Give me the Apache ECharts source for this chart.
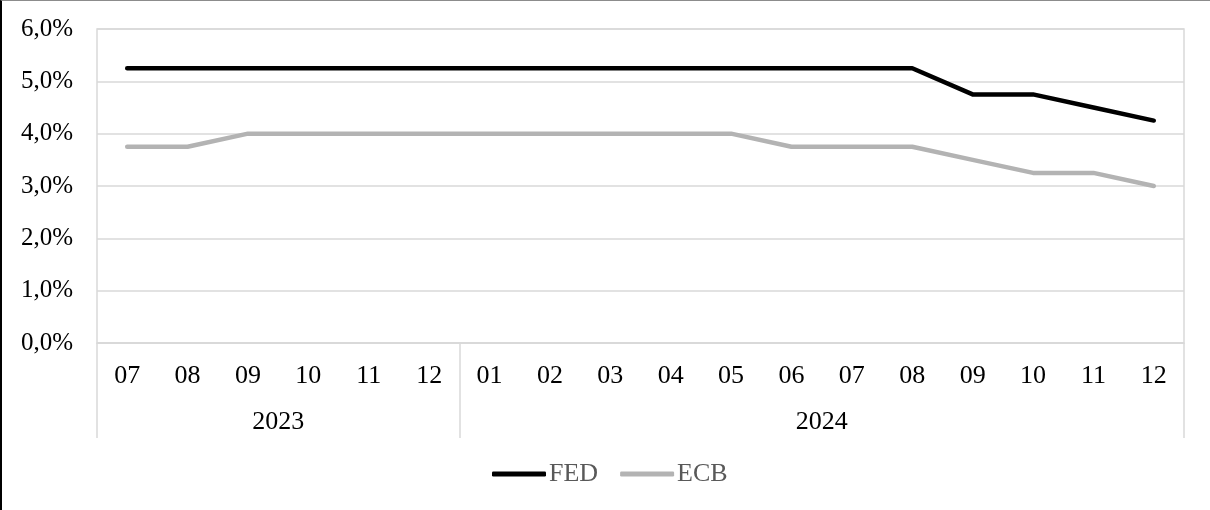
<!DOCTYPE html>
<html>
<head>
<meta charset="utf-8">
<script src="https://cdn.jsdelivr.net/npm/echarts@6/dist/echarts.min.js"></script>
<style>
  html, body { margin: 0; padding: 0; background: #fff; }
  #chart { width: 1210px; height: 510px; box-sizing: border-box;
           border-left: 2px solid #000; border-top: 1px solid #8c8c8c; }
</style>
</head>
<body>
<div id="chart"></div>
<script>
// Monthly policy rates, July 2023 – December 2024
const months = ['07','08','09','10','11','12','01','02','03','04','05','06','07','08','09','10','11','12'];
const years = ['2023', '2024'];
const monthsPerYear = [6, 12];
const fed = [5.25,5.25,5.25,5.25,5.25,5.25,5.25,5.25,5.25,5.25,5.25,5.25,5.25,5.25,4.75,4.75,4.5,4.25];
const ecb = [3.75,3.75,4.0,4.0,4.0,4.0,4.0,4.0,4.0,4.0,4.0,3.75,3.75,3.75,3.5,3.25,3.25,3.0];
const yTicks = [0, 1, 2, 3, 4, 5, 6];

// Year group boundaries and centres on a 0..N scale
const bounds = [0];
monthsPerYear.forEach(n => bounds.push(bounds[bounds.length - 1] + n));
const centres = years.map((_, i) => (bounds[i] + bounds[i + 1]) / 2);

const FONT = '"Liberation Serif", "Times New Roman", serif';
const GRID = '#d9d9d9';
const FS = 26;

const chart = echarts.init(document.getElementById('chart'));
chart.setOption({
  animation: false,
  textStyle: { fontFamily: FONT },
  grid: { left: 95, right: 26, top: 28, bottom: 167, show: true, borderColor: GRID, borderWidth: 1.5 },
  legend: {
    data: ['FED', 'ECB'],
    left: 490, top: 460, padding: 0,
    icon: 'roundRect', itemWidth: 54, itemHeight: 5, itemGap: 22,
    textStyle: { fontFamily: FONT, fontSize: FS, color: '#595959', padding: [0, 0, 0, -2] }
  },
  xAxis: [
    {
      type: 'category', data: months, boundaryGap: true,
      axisLine: { show: true, lineStyle: { color: GRID, width: 1.5 } },
      axisTick: { show: false },
      axisLabel: { fontSize: FS, color: '#000', margin: 20, fontFamily: FONT }
    },
    {
      type: 'value', min: 0, max: months.length, position: 'bottom',
      axisLine: { show: false },
      splitLine: { show: false },
      axisTick: { show: true, length: 95, customValues: bounds, lineStyle: { color: GRID, width: 1.5 } },
      axisLabel: {
        customValues: centres, fontSize: FS, color: '#000', margin: 66, fontFamily: FONT,
        formatter: v => years[centres.indexOf(v)] || ''
      }
    }
  ],
  yAxis: {
    type: 'value', min: yTicks[0], max: yTicks[yTicks.length - 1], interval: 1,
    axisLine: { show: false }, axisTick: { show: false },
    axisLabel: { fontSize: 25, color: '#000', margin: 24, fontFamily: FONT,
                 formatter: v => v.toFixed(1).replace('.', ',') + '%' },
    splitLine: { lineStyle: { color: GRID, width: 1.5 } }
  },
  series: [
    { name: 'FED', type: 'line', data: fed, symbol: 'none', xAxisIndex: 0,
      lineStyle: { color: '#000', width: 4.5, cap: 'round', join: 'round' }, itemStyle: { color: '#000' } },
    { name: 'ECB', type: 'line', data: ecb, symbol: 'none', xAxisIndex: 0,
      lineStyle: { color: '#b3b3b3', width: 4.5, cap: 'round', join: 'round' }, itemStyle: { color: '#b3b3b3' } }
  ]
});
</script>
</body>
</html>
